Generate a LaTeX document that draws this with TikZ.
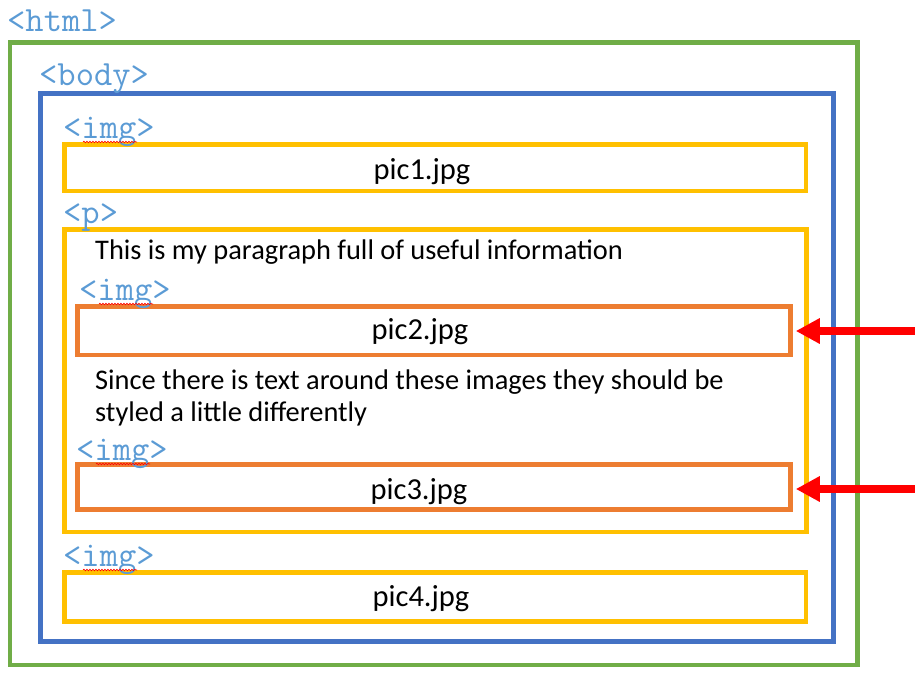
\documentclass[tikz,border=0pt]{standalone}
\usepackage{fontspec}
\setmainfont{Carlito}
\usetikzlibrary{arrows.meta, calc, decorations.pathmorphing}

\definecolor{htmlgreen}{HTML}{70AD47}
\definecolor{bodyblue}{HTML}{4472C4}
\definecolor{imgyellow}{HTML}{FFC000}
\definecolor{inlineorange}{HTML}{ED7D31}
\definecolor{tagblue}{HTML}{5B9BD5}

\tikzset{
    elbox/.style 2 args={draw, line width=4.5pt, minimum width=#1, minimum height=#2, inner sep=0pt},
    tag/.style={anchor=base west, inner sep=0pt, text=tagblue, font=\ttfamily\fontsize{35.5}{35.5}\selectfont},
    words/.style={inner sep=0pt, font=\fontsize{28.4}{32}\selectfont},
    picname/.style={inner sep=0pt, anchor=base, font=\fontsize{30.5}{32}\selectfont},
    squiggle/.style={red, line width=0.6pt, decorate, decoration={snake, amplitude=0.8pt, segment length=3pt}},
    pointer/.style={red, line width=7.5pt, -{Triangle[length=24pt, width=24pt]}, shorten >=3pt}
}

\begin{document}
\begin{tikzpicture}[x=1pt, y=-1pt]
    \useasboundingbox (0,0) rectangle (915,689);

    % nested boxes
    \node[elbox={847.5}{622.5}, htmlgreen] (html) at (433.75, 353.75) {};
    \node[elbox={793}{548}, bodyblue] (body) at (437, 367.5) {};
    \node[elbox={741.5}{46.5}, imgyellow] (img1) at (435.25, 167.75) {};
    \node[elbox={742}{302.5}, imgyellow] (para) at (435.5, 380.75) {};
    \node[elbox={713}{48.5}, inlineorange] (img2) at (434, 330.75) {};
    \node[elbox={713}{45}, inlineorange] (img3) at (434, 487) {};
    \node[elbox={741.5}{49}, imgyellow] (img4) at (435.25, 597) {};

    % tags
    \node[tag] (thtml) at (7, 31) {<html>};
    \node[tag] (tbody) at (39, 85) {<body>};
    \node[tag] (timg1) at (63, 138) {<img>};
    \node[tag] (tp) at (63, 223) {<p>};
    \node[tag] (timg2) at (79, 300) {<img>};
    \node[tag] (timg3) at (76, 460) {<img>};
    \node[tag] (timg4) at (63, 566) {<img>};
    \foreach \t in {timg1, timg2, timg3, timg4}
        \draw[squiggle] ($(\t.base west)+(20,4)$) -- ++(54,0);

    % texts
    \node[picname] (n1) at (422, 179) {pic1.jpg};
    \node[words, anchor=base west] (line1) at (95, 259) {This is my paragraph full of useful information};
    \node[picname] (n2) at (420, 339) {pic2.jpg};
    \node[words, anchor=base west, align=left] (line2) at (95, 421) {Since there is text around these images they should be\\styled a little differently};
    \node[picname] (n3) at (419, 499) {pic3.jpg};
    \node[picname] (n4) at (421, 606) {pic4.jpg};

    % arrows
    \coordinate (a2) at (915, 331);
    \coordinate (a3) at (915, 489);
    \draw[pointer] (a2) -- (img2.east |- a2);
    \draw[pointer] (a3) -- (img3.east |- a3);
\end{tikzpicture}
\end{document}
